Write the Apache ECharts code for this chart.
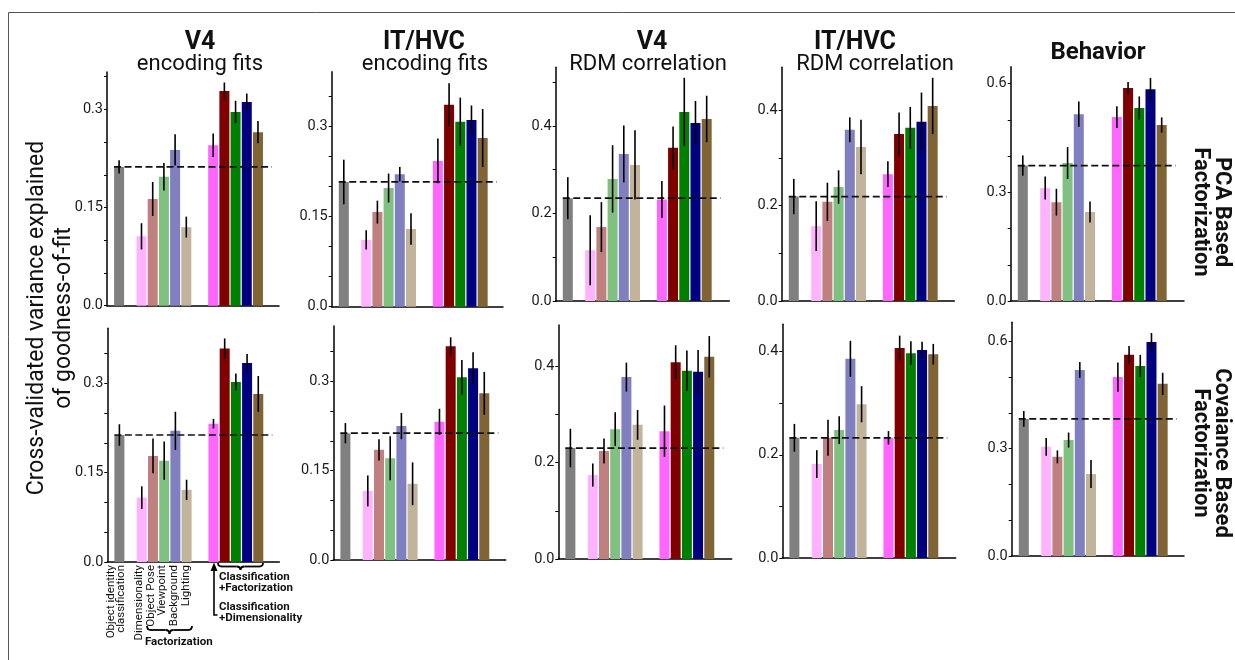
<!DOCTYPE html>
<html>
<head>
<meta charset="utf-8">
<script src="https://cdn.jsdelivr.net/npm/echarts@6/dist/echarts.min.js"></script>
<style>html,body{margin:0;padding:0;background:#fff}#c{width:1235px;height:660px}</style>
</head>
<body>
<div id="c"></div>
<script>
// ---------------- DATA ----------------
const CATEGORIES = ['Object identity classification','Dimensionality','Object Pose','Viewpoint','Background','Lighting',
  'Classification+Dimensionality','Classification+Object Pose','Classification+Viewpoint','Classification+Background','Classification+Lighting'];
const XPOS = [0, 2, 3, 4, 5, 6, 8.4, 9.4, 10.4, 11.4, 12.4];
const COLORS = ['#808080','#ffb3ff','#c08080','#80c080','#8080c0','#c2b49a','#ff66ff','#800000','#008000','#000080','#806434'];

// PCA based factorization (top row)
const v4EncPCA    = [0.212, 0.106, 0.163, 0.197, 0.238, 0.120, 0.245, 0.328, 0.296, 0.311, 0.265];
const v4EncPCAErr = [0.010, 0.020, 0.026, 0.021, 0.024, 0.016, 0.018, 0.013, 0.017, 0.013, 0.017];
const itEncPCA    = [0.207, 0.111, 0.157, 0.197, 0.220, 0.129, 0.242, 0.335, 0.307, 0.310, 0.280];
const itEncPCAErr = [0.037, 0.016, 0.019, 0.024, 0.012, 0.026, 0.037, 0.036, 0.040, 0.024, 0.048];
const v4RdmPCA    = [0.235, 0.116, 0.169, 0.279, 0.336, 0.311, 0.232, 0.350, 0.432, 0.407, 0.416];
const v4RdmPCAErr = [0.048, 0.080, 0.057, 0.077, 0.065, 0.079, 0.042, 0.049, 0.078, 0.050, 0.053];
const itRdmPCA    = [0.219, 0.157, 0.208, 0.239, 0.359, 0.323, 0.266, 0.350, 0.363, 0.376, 0.409];
const itRdmPCAErr = [0.037, 0.052, 0.040, 0.035, 0.026, 0.057, 0.027, 0.045, 0.044, 0.061, 0.059];
const behPCA      = [0.374, 0.312, 0.273, 0.381, 0.516, 0.246, 0.508, 0.588, 0.533, 0.585, 0.486];
const behPCAErr   = [0.028, 0.032, 0.037, 0.044, 0.035, 0.029, 0.030, 0.017, 0.032, 0.031, 0.021];

// Covariance based factorization (bottom row)
const v4EncCov    = [0.213, 0.108, 0.178, 0.170, 0.220, 0.121, 0.232, 0.358, 0.302, 0.334, 0.282];
const v4EncCovErr = [0.018, 0.019, 0.029, 0.032, 0.032, 0.017, 0.008, 0.017, 0.014, 0.015, 0.030];
const itEncCov    = [0.213, 0.116, 0.185, 0.171, 0.225, 0.128, 0.232, 0.359, 0.307, 0.322, 0.280];
const itEncCovErr = [0.017, 0.026, 0.018, 0.037, 0.022, 0.036, 0.022, 0.015, 0.029, 0.027, 0.036];
const v4RdmCov    = [0.230, 0.174, 0.224, 0.269, 0.377, 0.278, 0.265, 0.408, 0.390, 0.388, 0.419];
const v4RdmCovErr = [0.040, 0.024, 0.026, 0.035, 0.030, 0.031, 0.053, 0.035, 0.042, 0.045, 0.043];
const itRdmCov    = [0.233, 0.182, 0.233, 0.248, 0.386, 0.298, 0.233, 0.407, 0.397, 0.403, 0.395];
const itRdmCovErr = [0.027, 0.027, 0.035, 0.027, 0.035, 0.035, 0.013, 0.024, 0.023, 0.016, 0.020];
const behCov      = [0.383, 0.305, 0.277, 0.324, 0.520, 0.229, 0.500, 0.562, 0.531, 0.598, 0.481];
const behCovErr   = [0.022, 0.025, 0.018, 0.021, 0.022, 0.039, 0.041, 0.025, 0.031, 0.025, 0.031];

// Tick values and labels
const TICKS_ENC  = [0, 0.05, 0.1, 0.15, 0.2, 0.25, 0.3, 0.35];
const LABELS_ENC = [0, 0.15, 0.3];
const TICKS_RDM_A = [0, 0.1, 0.2, 0.3, 0.4, 0.5];
const TICKS_RDM_B = [0, 0.1, 0.2, 0.3, 0.4];
const LABELS_RDM = [0, 0.2, 0.4];
const TICKS_BEH  = [0, 0.1, 0.2, 0.3, 0.4, 0.5, 0.6];
const LABELS_BEH = [0, 0.3, 0.6];

const COL_TITLES = [['V4','encoding fits'],['IT/HVC','encoding fits'],['V4','RDM correlation'],['IT/HVC','RDM correlation'],['Behavior','']];
const ROW_TITLES = ['PCA Based\nFactorization', 'Covaiance Based\nFactorization'];
const Y_TITLE = 'Cross-validated variance explained\nof goodness-of-fit';

// ---------------- LAYOUT ----------------
const PANELS = [
  {vals: v4EncPCA, errs: v4EncPCAErr, ymax: 0.357, ticks: TICKS_ENC,   labels: LABELS_ENC, g: {left:107,   top:72,   width:172,   height:233.7}},
  {vals: itEncPCA, errs: itEncPCAErr, ymax: 0.39,  ticks: TICKS_ENC,   labels: LABELS_ENC, g: {left:331.7, top:71.7, width:171.3, height:235}},
  {vals: v4RdmPCA, errs: v4RdmPCAErr, ymax: 0.534, ticks: TICKS_RDM_A, labels: LABELS_RDM, g: {left:555.7, top:67.3, width:173.6, height:233.7}},
  {vals: itRdmPCA, errs: itRdmPCAErr, ymax: 0.49,  ticks: TICKS_RDM_B, labels: LABELS_RDM, g: {left:781.7, top:67.3, width:172.6, height:233.7}},
  {vals: behPCA,   errs: behPCAErr,   ymax: 0.647, ticks: TICKS_BEH,   labels: LABELS_BEH, g: {left:1010.7,top:66.7, width:173.3, height:234.3}},
  {vals: v4EncCov, errs: v4EncCovErr, ymax: 0.392, ticks: TICKS_ENC,   labels: LABELS_ENC, g: {left:107.3, top:328.3,width:172,   height:233.7}},
  {vals: itEncCov, errs: itEncCovErr, ymax: 0.393, ticks: TICKS_ENC,   labels: LABELS_ENC, g: {left:333.3, top:326,  width:172.4, height:234}},
  {vals: v4RdmCov, errs: v4RdmCovErr, ymax: 0.485, ticks: TICKS_RDM_B, labels: LABELS_RDM, g: {left:558.3, top:325,  width:173.4, height:234}},
  {vals: itRdmCov, errs: itRdmCovErr, ymax: 0.453, ticks: TICKS_RDM_B, labels: LABELS_RDM, g: {left:782.3, top:324.3,width:173.4, height:233.7}},
  {vals: behCov,   errs: behCovErr,   ymax: 0.653, ticks: TICKS_BEH,   labels: LABELS_BEH, g: {left:1011.7,top:322.3,width:172.3, height:233.7}}
];
const UNIT_PX = 11.2;
const XMIN = -1.08;
const FONT = 'Roboto, "Noto Sans", sans-serif';

const grid = [], xAxis = [], yAxis = [], series = [];
PANELS.forEach((p, i) => {
  grid.push(Object.assign({containLabel: false}, p.g));
  const xmax = XMIN + p.g.width / UNIT_PX;
  xAxis.push({
    type: 'value', gridIndex: i, min: XMIN, max: xmax,
    axisLine: {show: true, onZero: false, lineStyle: {color: '#000', width: 1.5}},
    axisTick: {show: false}, axisLabel: {show: false}, splitLine: {show: false}
  });
  yAxis.push({
    type: 'value', gridIndex: i, min: 0, max: p.ymax,
    axisLine: {show: true, onZero: false, lineStyle: {color: '#000', width: 1.5}},
    axisTick: {show: true, length: 3, customValues: p.ticks, lineStyle: {color: '#000', width: 1}},
    axisLabel: {show: true, customValues: p.labels, margin: 4, fontSize: 14.5, color: '#1a1a1a', fontFamily: FONT,
      formatter: v => v === 0 ? '0.0' : String(+v.toFixed(2))},
    splitLine: {show: false}
  });
  series.push({
    type: 'bar', xAxisIndex: i, yAxisIndex: i, barWidth: 10, z: 2, silent: true,
    data: p.vals.map((v, k) => ({value: [XPOS[k], v], itemStyle: {color: COLORS[k]}}))
  });
  series.push({
    type: 'line', xAxisIndex: i, yAxisIndex: i, z: 3, symbol: 'none', silent: true,
    lineStyle: {color: '#111', width: 1.7, type: [7, 3.5]},
    data: [[XPOS[0] - 0.45, p.vals[0]], [XPOS[XPOS.length - 1] + 1.25, p.vals[0]]]
  });
  series.push({
    type: 'custom', xAxisIndex: i, yAxisIndex: i, z: 4, silent: true,
    encode: {x: 0, y: [1, 2]},
    data: p.vals.map((v, k) => [XPOS[k], v - p.errs[k], v + p.errs[k]]),
    renderItem: (params, api) => {
      const a = api.coord([api.value(0), api.value(1)]);
      const b = api.coord([api.value(0), api.value(2)]);
      return {type: 'line', shape: {x1: a[0], y1: a[1], x2: b[0], y2: b[1]}, style: {stroke: '#000', lineWidth: 1.6}};
    }
  });
});

// ---------------- GRAPHICS (titles & annotations) ----------------
const graphic = [];
graphic.push({type: 'rect', shape: {x: 8.5, y: 12.5, width: 1300, height: 700}, style: {fill: null, stroke: '#555', lineWidth: 1}, silent: true});
const titlePos = [[200, 200], [424, 425], [652, 648], [855, 875], [1098, 1098]];
COL_TITLES.forEach((t, i) => {
  if (t[1]) {
    graphic.push({type: 'text', x: titlePos[i][0], y: 43, style: {text: t[0], font: 'bold 25px ' + FONT, fill: '#111', align: 'center', verticalAlign: 'middle'}});
    graphic.push({type: 'text', x: titlePos[i][1], y: 64, style: {text: t[1], font: 'normal 22px ' + FONT, fill: '#111', align: 'center', verticalAlign: 'middle'}});
  } else {
    graphic.push({type: 'text', x: titlePos[i][0], y: 53, style: {text: t[0], font: 'bold 24px ' + FONT, fill: '#111', align: 'center', verticalAlign: 'middle'}});
  }
});
graphic.push({type: 'text', x: 51, y: 318, rotation: Math.PI / 2,
  style: {text: Y_TITLE, font: 'normal 23px ' + FONT, fill: '#111', align: 'center', verticalAlign: 'middle', lineHeight: 27}});
[212, 453].forEach((cy, r) => {
  graphic.push({type: 'text', x: 1211, y: cy, rotation: -Math.PI / 2,
    style: {text: ROW_TITLES[r], font: 'bold 22px ' + FONT, fill: '#111', align: 'center', verticalAlign: 'middle', lineHeight: 21}});
});
// category annotations under the bottom-left panel
const catLabels = [['Object identity\nclassification', 116], ['Dimensionality', 139], ['Object Pose', 151], ['Viewpoint', 162.5], ['Background', 174], ['Lighting', 186]];
catLabels.forEach(c => {
  graphic.push({type: 'text', x: c[1], y: 565, rotation: Math.PI / 2,
    style: {text: c[0], font: 'normal 11.5px ' + FONT, fill: '#111', align: 'right', verticalAlign: 'middle', lineHeight: 10}});
});
function pushBrace(x1, x2, y, h) {
  const xm = (x1 + x2) / 2, q = 4, ym = y + h / 2;
  const st = {fill: null, stroke: '#000', lineWidth: 1.8};
  graphic.push({type: 'bezierCurve', shape: {x1: x1, y1: y, cpx1: x1, cpy1: ym, x2: x1 + q, y2: ym}, style: st});
  graphic.push({type: 'line', shape: {x1: x1 + q, y1: ym, x2: xm - q, y2: ym}, style: st});
  graphic.push({type: 'bezierCurve', shape: {x1: xm - q, y1: ym, cpx1: xm, cpy1: ym, x2: xm, y2: y + h}, style: st});
  graphic.push({type: 'bezierCurve', shape: {x1: xm, y1: y + h, cpx1: xm, cpy1: ym, x2: xm + q, y2: ym}, style: st});
  graphic.push({type: 'line', shape: {x1: xm + q, y1: ym, x2: x2 - q, y2: ym}, style: st});
  graphic.push({type: 'bezierCurve', shape: {x1: x2 - q, y1: ym, cpx1: x2, cpy1: ym, x2: x2, y2: y}, style: st});
}
pushBrace(147, 192, 626, 8);
pushBrace(218, 263, 563, 7);
graphic.push({type: 'text', x: 145, y: 642, style: {text: 'Factorization', font: 'bold 11.5px ' + FONT, fill: '#111', align: 'left', verticalAlign: 'middle'}});
graphic.push({type: 'polyline', shape: {points: [[214, 569], [214, 615], [217.5, 615]]}, style: {fill: null, stroke: '#000', lineWidth: 1.6}});
graphic.push({type: 'polygon', shape: {points: [[214, 562.5], [210.5, 571], [217.5, 571]]}, style: {fill: '#000'}});
graphic.push({type: 'text', x: 219, y: 583, style: {text: 'Classification\n+Factorization', font: 'bold 11.5px ' + FONT, fill: '#111', align: 'left', verticalAlign: 'middle', lineHeight: 11}});
graphic.push({type: 'text', x: 219, y: 613, style: {text: 'Classification\n+Dimensionality', font: 'bold 11.5px ' + FONT, fill: '#111', align: 'left', verticalAlign: 'middle', lineHeight: 11}});

const chart = echarts.init(document.getElementById('c'), null, {renderer: 'canvas'});
chart.setOption({animation: false, backgroundColor: '#fff', textStyle: {fontFamily: FONT}, grid, xAxis, yAxis, series, graphic});
</script>
</body>
</html>
